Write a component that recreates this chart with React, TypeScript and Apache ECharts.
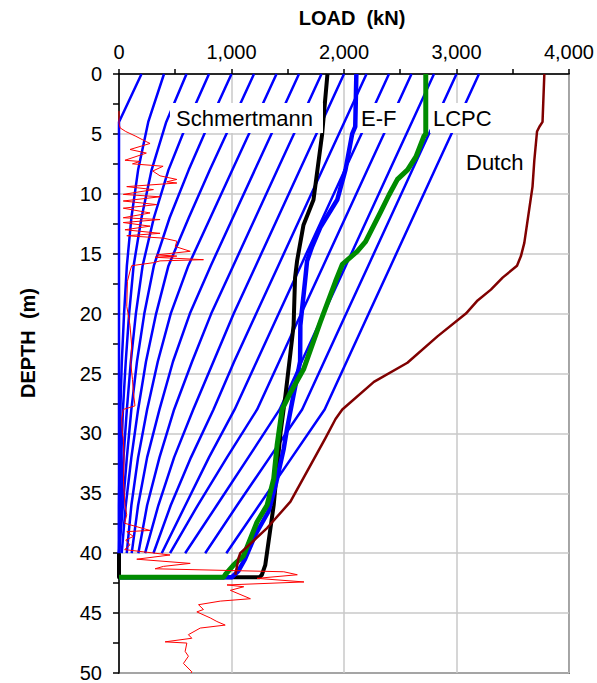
import React, { useEffect, useRef } from 'react';
import * as echarts from 'echarts';

// Depths (m) at which the blue load-distribution lines are sampled
const depthLevels = [0, 4, 8, 12, 16, 20, 24, 28, 32, 36, 40];
// Load (kN) of each blue line at depthLevels
const blueLines: number[][] = [
  [200, 0, 0, 0, 0, 0, 0, 0, 0, 0, 0],
  [400, 260, 170, 110, 70, 45, 25, 12, 5, 0, 0],
  [600, 420, 290, 200, 130, 90, 60, 35, 20, 8, 0],
  [800, 610, 440, 310, 210, 150, 105, 70, 40, 20, 0],
  [1000, 805, 620, 450, 310, 225, 160, 110, 70, 35, 0],
  [1200, 1004, 808, 620, 440, 330, 240, 170, 110, 60, 24],
  [1400, 1204, 1008, 812, 616, 460, 345, 250, 170, 110, 69],
  [1600, 1404, 1208, 1012, 816, 630, 480, 360, 250, 170, 113],
  [1800, 1604, 1408, 1212, 1016, 820, 650, 490, 360, 250, 172],
  [2000, 1804, 1608, 1412, 1216, 1020, 840, 660, 490, 350, 232],
  [2200, 2004, 1808, 1612, 1416, 1220, 1024, 840, 640, 460, 306],
  [2400, 2204, 2008, 1812, 1616, 1420, 1224, 1028, 800, 590, 380],
  [2600, 2404, 2208, 2012, 1816, 1620, 1424, 1228, 960, 700, 454],
  [2800, 2604, 2408, 2212, 2016, 1820, 1624, 1428, 1150, 870, 588],
  [3000, 2804, 2608, 2412, 2216, 2020, 1824, 1628, 1340, 1050, 766],
  [3200, 3004, 2808, 2612, 2416, 2220, 2024, 1828, 1537, 1245, 954],
];

// [load kN, depth m]
const schmertmann: number[][] = [
  [1853, 0], [1806, 5], [1729, 10.5], [1640, 12.6], [1583, 15.6], [1565, 17],
  [1552, 21], [1525, 23.2], [1480, 26.8], [1435, 30], [1375, 36], [1345, 38],
  [1300, 41], [1270, 41.8], [1250, 42], [0, 42], [0, 40],
];
const ef: number[][] = [
  [2110, 0], [2100, 4.4], [2073, 5], [2013, 8], [1940, 10.5], [1790, 12.8],
  [1717, 14.4], [1672, 15.6], [1657, 17], [1612, 21], [1610, 24], [1539, 27.4],
  [1494, 29.6], [1464, 31.3], [1400, 34], [1330, 36.5], [1210, 38.5],
  [1120, 40.5], [1060, 41.5], [1004, 42], [0, 42],
];
const lcpc: number[][] = [
  [2727, 0], [2727, 5], [2710, 5.2], [2640, 6.9], [2565, 8], [2475, 8.8],
  [2400, 10.1], [2326, 11.5], [2192, 14], [2118, 14.8], [1985, 15.9],
  [1925, 17.3], [1790, 20.7], [1643, 24.6], [1524, 26.6], [1450, 28],
  [1405, 31], [1375, 33.8], [1316, 36], [1227, 37.4], [1167, 38.8],
  [1108, 40.2], [1018, 41], [944, 41.8], [930, 42], [0, 42],
];
const dutch: number[][] = [
  [3781, 0], [3765, 4], [3737, 4.4], [3716, 4.8], [3692, 7.2], [3676, 9.4],
  [3603, 14.1], [3573, 15.2], [3538, 16], [3410, 17], [3306, 18], [3188, 18.9],
  [3084, 20], [2831, 21.9], [2564, 24.1], [2266, 25.7], [1985, 28], [1925, 28.8],
  [1835, 30.4], [1524, 35.7], [1316, 37.9], [1078, 40], [1063, 40.4], [1034, 41.8],
];
const cpt: number[][] = [
  [0, 3.1], [0, 4.1], [10, 4.5], [60, 4.8], [150, 5.2], [232, 5.6], [276, 5.8],
  [98, 6.3], [243, 6.6], [53, 7.2], [187, 7.3], [120, 7.5], [392, 7.7], [300, 8.1],
  [365, 8.5], [514, 8.8], [424, 9.0], [514, 9.1], [69, 9.4], [306, 9.65],
  [38, 10.05], [365, 10.25], [38, 10.6], [335, 10.9], [38, 11.2], [276, 11.6],
  [38, 12.0], [365, 12.15], [38, 12.4], [276, 12.7], [53, 13.0], [365, 13.3],
  [69, 13.5], [395, 13.7], [514, 13.95], [500, 14.4], [633, 14.8], [335, 15.1],
  [514, 15.2], [320, 15.3], [751, 15.5], [365, 15.6], [306, 15.75], [113, 16.0],
  [98, 16.45], [75, 17.3], [69, 19.4], [90, 20.5], [98, 21.0], [113, 22.7],
  [104, 24.1], [120, 25.5], [128, 26.6], [142, 27.7], [38, 28.0], [24, 28.8],
  [30, 30], [38, 30.4], [45, 32], [40, 34], [53, 36], [69, 36.8], [50, 37.5],
  [276, 38.1], [69, 38.2], [128, 38.6], [60, 38.9], [98, 39.3], [50, 39.7],
  [454, 40.15], [158, 40.5], [633, 40.85], [395, 41.1], [321, 41.3],
  [1465, 41.55], [1585, 41.8], [1227, 42.1], [1644, 42.4], [960, 42.65],
  [1109, 42.8], [990, 43.1], [1168, 43.8], [900, 44.0], [707, 44.3], [751, 44.7],
  [692, 44.9], [811, 45.4], [870, 45.7], [944, 46.0], [722, 46.25], [617, 46.8],
  [647, 47.1], [410, 47.4], [603, 47.5], [588, 48.2], [617, 48.6], [573, 49.2],
  [647, 49.9], [640, 50],
];

const FONT = 'Arial, "Liberation Sans", sans-serif';

export default function App() {
  const ref = useRef<HTMLDivElement>(null);
  useEffect(() => {
    if (!ref.current) return;
    const chart = echarts.init(ref.current, undefined, { renderer: 'svg' });
    const lineSeries = (data: number[][], color: string, width: number, z: number) => ({
      type: 'line',
      data,
      showSymbol: false,
      symbol: 'none',
      z,
      lineStyle: { color, width, join: 'round' },
    });
    const series: any[] = [];
    blueLines.forEach((line) => {
      series.push(lineSeries(line.map((v, i) => [v, depthLevels[i]]), '#0000ff', 2.5, 2));
    });
    series.push(lineSeries(schmertmann, '#000000', 4, 3));
    series.push(lineSeries(ef, '#0000ff', 4.5, 4));
    series.push(lineSeries(lcpc, '#008c00', 5, 5));
    series.push(lineSeries(dutch, '#800000', 2.5, 6));
    series.push(lineSeries(cpt, '#ff0000', 1, 7));

    const labelBox = (x: number, y: number, w: number, h: number, text: string, tx: number) => [
      { type: 'rect', z: 20, shape: { x, y, width: w, height: h }, style: { fill: '#ffffff' } },
      {
        type: 'text', z: 21, x: tx, y: y + h / 2,
        style: { text, font: `22px ${FONT}`, fill: '#000', verticalAlign: 'middle', align: 'left' },
      },
    ];

    chart.setOption({
      animation: false,
      backgroundColor: '#ffffff',
      grid: { left: 119, top: 74, right: 28, bottom: 8, show: true, borderColor: '#000', borderWidth: 1.5 },
      xAxis: {
        type: 'value', position: 'top', min: 0, max: 4000, interval: 1000,
        axisLine: { show: true, lineStyle: { color: '#000', width: 1.5 } },
        axisTick: { show: true, length: 5, lineStyle: { color: '#000', width: 1.5 } },
        minorTick: { show: true, splitNumber: 2, length: 5, lineStyle: { color: '#000', width: 1.5 } },
        splitLine: { show: true, lineStyle: { color: '#c8c8c8', width: 1.5 } },
        axisLabel: {
          margin: 12, fontSize: 20, color: '#000', fontFamily: FONT,
          formatter: (v: number) => v.toLocaleString('en-US'),
        },
      },
      yAxis: {
        type: 'value', inverse: true, min: 0, max: 50, interval: 5,
        axisLine: { show: true, lineStyle: { color: '#000', width: 1.5 } },
        axisTick: { show: true, length: 6, lineStyle: { color: '#000', width: 1.5 } },
        minorTick: { show: true, splitNumber: 2, length: 6, lineStyle: { color: '#000', width: 1.5 } },
        splitLine: { show: true, lineStyle: { color: '#c8c8c8', width: 1.5 } },
        axisLabel: { margin: 17, fontSize: 20, color: '#000', fontFamily: FONT },
      },
      graphic: [
        {
          type: 'text', x: 352, y: 18, z: 30,
          style: { text: 'LOAD  (kN)', font: `bold 20px ${FONT}`, fill: '#000', align: 'center', verticalAlign: 'middle' },
        },
        {
          type: 'text', x: 28, y: 343, rotation: Math.PI / 2, z: 30,
          style: { text: 'DEPTH  (m)', font: `bold 20px ${FONT}`, fill: '#000', align: 'center', verticalAlign: 'middle' },
        },
        ...labelBox(170, 103, 153, 30, 'Schmertmann', 176),
        ...labelBox(358, 103, 42, 30, 'E-F', 361),
        ...labelBox(430, 103, 67, 30, 'LCPC', 433),
        {
          type: 'text', x: 466, y: 162, z: 21,
          style: { text: 'Dutch', font: `22px ${FONT}`, fill: '#000', verticalAlign: 'middle', align: 'left' },
        },
      ],
      series,
    });
    return () => chart.dispose();
  }, []);
  return <div ref={ref} style={{ position: 'fixed', left: 0, top: 0, width: 597, height: 683 }} />;
}
